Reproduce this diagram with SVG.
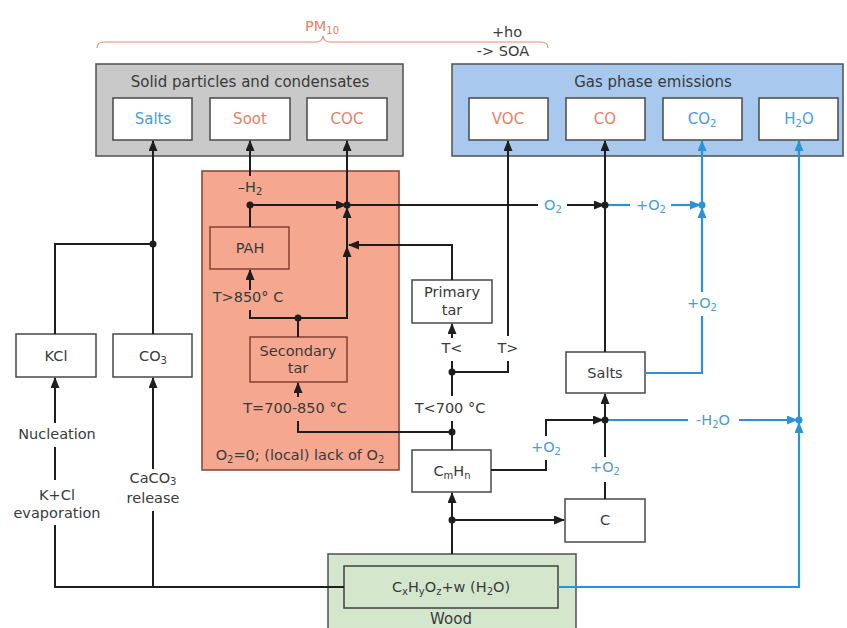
<svg xmlns="http://www.w3.org/2000/svg" width="847" height="628" viewBox="0 0 847 628">
<style>
text{font-family:"DejaVu Sans","Liberation Sans",sans-serif;font-size:14.5px;fill:#3a3a3a;text-anchor:middle}
.t{font-size:15px}
.bl{fill:#4a9cd6}
.rd{fill:#e67f68}
.box{fill:#fff;stroke:#484848;stroke-width:1.5}
.rbox{fill:#f5a790;stroke:#86402f;stroke-width:1.5}
.k{fill:none;stroke:#1e1e1e;stroke-width:2}
.b{fill:none;stroke:#2a92d6;stroke-width:2.2}
.kd{fill:#1e1e1e}
.bd{fill:#2a92d6}
</style>
<defs>
<marker id="ak" markerWidth="11" markerHeight="9" refX="10" refY="4.5" orient="auto" markerUnits="userSpaceOnUse"><path d="M0,0 L11,4.5 L0,9 z" fill="#1e1e1e"/></marker>
<marker id="ab" markerWidth="11" markerHeight="9" refX="10" refY="4.5" orient="auto" markerUnits="userSpaceOnUse"><path d="M0,0 L11,4.5 L0,9 z" fill="#2a92d6"/></marker>
</defs>
<rect width="847" height="628" fill="#fff"/>

<g id="pm10">
<path d="M97,48 Q97,42 104,42 H316 Q322,42 323,36 Q324,42 330,42 H541 Q548,42 548,48" fill="none" stroke="#e88c78" stroke-width="1.2"/>
<text x="322" y="31" class="rd">PM<tspan dy="3" font-size="10">10</tspan></text>
<text x="507" y="37">+ho</text>
<text x="503" y="56">-&gt; SOA</text>
</g>

<g id="solid">
<rect x="96" y="64" width="307" height="92" fill="#c9c9c9" stroke="#505050" stroke-width="1.5"/>
<text x="250" y="87" class="t">Solid particles and condensates</text>
<g id="salts-top"><rect class="box" x="113" y="98" width="79" height="42"/><text x="153" y="124" class="t bl">Salts</text></g>
<g id="soot"><rect class="box" x="210" y="98" width="80" height="42"/><text x="250" y="124" class="t rd">Soot</text></g>
<g id="coc"><rect class="box" x="307" y="98" width="80" height="42"/><text x="347" y="124" class="t rd">COC</text></g>
</g>

<g id="gas">
<rect x="452" y="64" width="391" height="92" fill="#a8c8ee" stroke="#505050" stroke-width="1.5"/>
<text x="653" y="87" class="t">Gas phase emissions</text>
<g id="voc"><rect class="box" x="469" y="98" width="79" height="42"/><text x="508" y="124" class="t rd">VOC</text></g>
<g id="co"><rect class="box" x="566" y="98" width="79" height="42"/><text x="605" y="124" class="t rd">CO</text></g>
<g id="co2"><rect class="box" x="663" y="98" width="79" height="42"/><text x="702" y="124" class="t bl">CO<tspan dy="3" font-size="10">2</tspan></text></g>
<g id="h2o"><rect class="box" x="759" y="98" width="79" height="42"/><text x="799" y="124" class="t bl">H<tspan dy="3" font-size="10">2</tspan><tspan dy="-3">O</tspan></text></g>
</g>

<g id="pyrolysis">
<rect class="rbox" x="202" y="171" width="197" height="299"/>
<text x="300" y="460">O<tspan dy="3" font-size="10">2</tspan><tspan dy="-3">=0; (local) lack of O</tspan><tspan dy="3" font-size="10">2</tspan></text>
<text x="250" y="192">–H<tspan dy="3" font-size="10">2</tspan></text>
<text x="248" y="302">T&gt;850° C</text>
<text x="295" y="413">T=700-850 °C</text>
</g>
<g id="pah"><rect class="rbox" x="210" y="227" width="79" height="42"/><text x="250" y="253">PAH</text></g>
<g id="sectar"><rect class="rbox" x="250" y="337" width="97" height="45"/><text x="298" y="356">Secondary</text><text x="298" y="373">tar</text></g>

<g id="primtar"><rect class="box" x="412" y="280" width="80" height="43"/><text x="452" y="297">Primary</text><text x="452" y="315">tar</text></g>
<g id="cmhn"><rect class="box" x="412" y="450" width="79" height="42"/><text x="452" y="476">C<tspan dy="3" font-size="10">m</tspan><tspan dy="-3">H</tspan><tspan dy="3" font-size="10">n</tspan></text></g>
<g id="c"><rect class="box" x="565" y="499" width="80" height="43"/><text x="605" y="525">C</text></g>
<g id="salts-r"><rect class="box" x="566" y="352" width="79" height="41"/><text x="605" y="378">Salts</text></g>
<g id="kcl"><rect class="box" x="16" y="334" width="80" height="43"/><text x="56" y="361">KCl</text></g>
<g id="co3"><rect class="box" x="113" y="334" width="79" height="43"/><text x="153" y="361">CO<tspan dy="3" font-size="10">3</tspan></text></g>

<g id="wood">
<rect x="328" y="554" width="248" height="78" fill="#d4e7cd" stroke="#505050" stroke-width="1.5"/>
<rect x="344" y="566" width="214" height="42" fill="#d4e7cd" stroke="#404040" stroke-width="1.5"/>
<text x="451" y="592">C<tspan dy="3" font-size="10">x</tspan><tspan dy="-3">H</tspan><tspan dy="3" font-size="10">y</tspan><tspan dy="-3">O</tspan><tspan dy="3" font-size="10">z</tspan><tspan dy="-3">+w (H</tspan><tspan dy="3" font-size="10">2</tspan><tspan dy="-3">O)</tspan></text>
<text x="451" y="624" class="t">Wood</text>
</g>

<g id="labels">
<text x="57" y="439">Nucleation</text>
<text x="57" y="500">K+Cl</text>
<text x="57" y="518">evaporation</text>
<text x="153" y="483">CaCO<tspan dy="2" font-size="10">3</tspan></text>
<text x="153" y="503">release</text>
<text x="452" y="353">T&lt;</text>
<text x="508" y="353">T&gt;</text>
<text x="450" y="413">T&lt;700 °C</text>
<text x="553" y="210" class="bl">O<tspan dy="3" font-size="10">2</tspan></text>
<text x="651" y="210" class="bl">+O<tspan dy="3" font-size="10">2</tspan></text>
<text x="702" y="308" class="bl">+O<tspan dy="3" font-size="10">2</tspan></text>
<text x="713" y="425" class="bl">-H<tspan dy="3" font-size="10">2</tspan><tspan dy="-3">O</tspan></text>
<text x="546" y="452" class="bl">+O<tspan dy="3" font-size="10">2</tspan></text>
<text x="605" y="472" class="bl">+O<tspan dy="3" font-size="10">2</tspan></text>
</g>

<g id="connectors">
<path class="k" d="M153,334 V141" marker-end="url(#ak)"/>
<path class="k" d="M153,244 H55 V334"/>
<path class="k" d="M55,423 V378" marker-end="url(#ak)"/>
<path class="k" d="M55,447 V480"/>
<path class="k" d="M344,587 H55 V525"/>
<path class="k" d="M153,587 V511"/>
<path class="k" d="M153,469 V378" marker-end="url(#ak)"/>
<path class="k" d="M250,176 V141" marker-end="url(#ak)"/>
<path class="k" d="M250,205 V227"/>
<path class="k" d="M250,205 H346" marker-end="url(#ak)"/>
<path class="k" d="M347,205 V141" marker-end="url(#ak)"/>
<path class="k" d="M347,205 H538"/>
<path class="k" d="M567,205 H604" marker-end="url(#ak)"/>
<path class="k" d="M250,290 V270" marker-end="url(#ak)"/>
<path class="k" d="M250,310 V318 H347 V247" marker-end="url(#ak)"/>
<path class="k" d="M347,247 V208" marker-end="url(#ak)"/>
<path class="k" d="M452,280 V245 H349" marker-end="url(#ak)"/>
<path class="k" d="M298,318 V337"/>
<path class="k" d="M298,397 V383" marker-end="url(#ak)"/>
<path class="k" d="M298,421 V432 H452"/>
<path class="k" d="M452,450 V421"/>
<path class="k" d="M452,396 V361"/>
<path class="k" d="M452,338 V324" marker-end="url(#ak)"/>
<path class="k" d="M452,372 H508 V361"/>
<path class="k" d="M508,336 V141" marker-end="url(#ak)"/>
<path class="k" d="M452,554 V493" marker-end="url(#ak)"/>
<path class="k" d="M452,520 H564" marker-end="url(#ak)"/>
<path class="k" d="M491,470 H546 V460"/>
<path class="k" d="M546,436 V420 H603" marker-end="url(#ak)"/>
<path class="k" d="M605,499 V482"/>
<path class="k" d="M605,457 V394" marker-end="url(#ak)"/>
<path class="k" d="M605,352 V141" marker-end="url(#ak)"/>

<path class="b" d="M607,205 H630"/>
<path class="b" d="M671,205 H700" marker-end="url(#ab)"/>
<path class="b" d="M702,205 V141" marker-end="url(#ab)"/>
<path class="b" d="M645,373 H702 V316"/>
<path class="b" d="M702,292 V208" marker-end="url(#ab)"/>
<path class="b" d="M607,420 H688"/>
<path class="b" d="M739,420 H797" marker-end="url(#ab)"/>
<path class="b" d="M558,587 H799 V423" marker-end="url(#ab)"/>
<path class="b" d="M799,420 V141" marker-end="url(#ab)"/>

<circle class="kd" cx="153" cy="244" r="3.5"/>
<circle class="kd" cx="250" cy="205" r="3.5"/>
<circle class="kd" cx="347" cy="205" r="3.5"/>
<circle class="kd" cx="298" cy="318" r="3.5"/>
<circle class="kd" cx="452" cy="432" r="3.5"/>
<circle class="kd" cx="452" cy="372" r="3.5"/>
<circle class="kd" cx="452" cy="520" r="3.5"/>
<circle class="kd" cx="605" cy="205" r="3.5"/>
<circle class="kd" cx="605" cy="420" r="3.5"/>
<circle class="bd" cx="702" cy="205" r="3.5"/>
<circle class="bd" cx="799" cy="420" r="3.5"/>
</g>
</svg>
